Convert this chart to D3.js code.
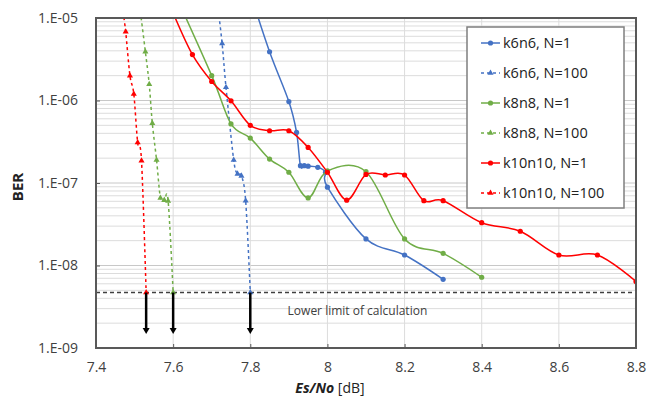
<!DOCTYPE html>
<html>
<head>
<meta charset="utf-8">
<script src="https://cdn.jsdelivr.net/npm/d3@7"></script>
<style>
  body { margin: 0; background: #fff; }
  svg { display: block; font-family: "Open Sans", sans-serif; }
</style>
</head>
<body>
<div id="chart"></div>
<script>
// values (Es/No in dB, BER)
var k6n6N1Es = [7.80, 7.85, 7.90, 7.92, 7.93, 7.94, 7.95, 7.975, 7.995, 8.0, 8.1, 8.2, 8.3];
var k6n6N1Ber = [2.0e-5, 3.9e-6, 9.7e-7, 4.1e-7, 1.62e-7, 1.62e-7, 1.6e-7, 1.55e-7, 1.35e-7, 8.9e-8, 2.1e-8, 1.34e-8, 6.8e-9];

var k6n6N100Es = [7.715, 7.727, 7.737, 7.757, 7.767, 7.777, 7.788, 7.80];
var k6n6N100Ber = [1.5e-5, 4.9e-6, 1.45e-6, 1.9e-7, 1.29e-7, 1.22e-7, 6.1e-8, 4.7e-9];

var k8n8N1Es = [7.6, 7.7, 7.75, 7.8, 7.85, 7.9, 7.95, 8.0, 8.1, 8.2, 8.3, 8.4];
var k8n8N1Ber = [2.2e-5, 2.0e-6, 5.2e-7, 3.5e-7, 1.95e-7, 1.35e-7, 6.6e-8, 1.4e-7, 1.37e-7, 2.1e-8, 1.4e-8, 7.2e-9];

var k8n8N100Es = [7.515, 7.528, 7.538, 7.546, 7.557, 7.567, 7.577, 7.587, 7.6];
var k8n8N100Ber = [1.2e-5, 3.9e-6, 1.57e-6, 5.3e-7, 1.9e-7, 6.6e-8, 6.2e-8, 6.05e-8, 4.7e-9];

var k10n10N1Es = [7.6, 7.65, 7.7, 7.75, 7.8, 7.85, 7.9, 7.95, 8.0, 8.05, 8.1, 8.15, 8.2, 8.25, 8.3, 8.4, 8.5, 8.6, 8.7, 8.8];
var k10n10N1Ber = [1.15e-5, 3.6e-6, 1.7e-6, 9.9e-7, 5.0e-7, 4.3e-7, 4.3e-7, 2.7e-7, 1.35e-7, 6.2e-8, 1.27e-7, 1.25e-7, 1.25e-7, 6.1e-8, 6.1e-8, 3.3e-8, 2.6e-8, 1.34e-8, 1.34e-8, 6.4e-9];

var k10n10N100Es = [7.47, 7.477, 7.488, 7.498, 7.508, 7.518, 7.53];
var k10n10N100Ber = [1.2e-5, 6.8e-6, 2.0e-6, 1.2e-6, 3.1e-7, 1.86e-7, 4.7e-9];

var lowerLimit = 4.7e-9;
var arrowEs = [7.53, 7.6, 7.8];
var xTicks = [7.4, 7.6, 7.8, 8.0, 8.2, 8.4, 8.6, 8.8];
var yTicks = [1e-9, 1e-8, 1e-7, 1e-6, 1e-5];

var series = [
  {name: "k6n6, N=1",     es: k6n6N1Es,     ber: k6n6N1Ber,     color: "#4472C4", dashed: false},
  {name: "k6n6, N=100",   es: k6n6N100Es,   ber: k6n6N100Ber,   color: "#4472C4", dashed: true},
  {name: "k8n8, N=1",     es: k8n8N1Es,     ber: k8n8N1Ber,     color: "#70AD47", dashed: false},
  {name: "k8n8, N=100",   es: k8n8N100Es,   ber: k8n8N100Ber,   color: "#70AD47", dashed: true},
  {name: "k10n10, N=1",   es: k10n10N1Es,   ber: k10n10N1Ber,   color: "#FF0000", dashed: false},
  {name: "k10n10, N=100", es: k10n10N100Es, ber: k10n10N100Ber, color: "#FF0000", dashed: true}
];

var W = 657, H = 397;
var margin = {left: 96, right: 21, top: 18, bottom: 49};
var width = W - margin.left - margin.right;
var height = H - margin.top - margin.bottom;

var x = d3.scaleLinear().domain([7.4, 8.8]).range([0, width]);
var y = d3.scaleLog().domain([1e-9, 1e-5]).range([height, 0]);

var svg = d3.select("#chart").append("svg")
  .attr("width", W)
  .attr("height", H);

svg.append("defs").append("clipPath").attr("id", "plotclip")
  .append("rect").attr("width", width).attr("height", height);

var g = svg.append("g").attr("transform", "translate(" + margin.left + "," + margin.top + ")");

// gridlines: log minor lines then majors
var minor = [];
for (var e = -9; e < -5; e++) {
  for (var m = 2; m <= 9; m++) minor.push(m * Math.pow(10, e));
}
g.append("g").selectAll("line").data(minor).enter().append("line")
  .attr("x1", 0).attr("x2", width)
  .attr("y1", function(d) { return y(d); }).attr("y2", function(d) { return y(d); })
  .attr("stroke", "#dcdcdc").attr("stroke-width", 1);
g.append("g").selectAll("line").data(yTicks).enter().append("line")
  .attr("x1", 0).attr("x2", width)
  .attr("y1", function(d) { return y(d); }).attr("y2", function(d) { return y(d); })
  .attr("stroke", "#c8c8c8").attr("stroke-width", 1);
g.append("g").selectAll("line").data(xTicks).enter().append("line")
  .attr("y1", 0).attr("y2", height)
  .attr("x1", function(d) { return x(d); }).attr("x2", function(d) { return x(d); })
  .attr("stroke", "#dcdcdc").attr("stroke-width", 1);

// axes with inner ticks
var xAxis = g.append("g").attr("transform", "translate(0," + height + ")")
  .call(d3.axisBottom(x).tickValues(xTicks).tickSizeInner(-4).tickSizeOuter(0).tickPadding(14)
    .tickFormat(function(d) { return d === 8 ? "8" : d3.format(".1f")(d); }));
var yAxis = g.append("g")
  .call(d3.axisLeft(y).tickValues(yTicks).tickSizeInner(-4).tickSizeOuter(0).tickPadding(18)
    .tickFormat(function(d) { return "1.E-" + d3.format("02d")(Math.round(-Math.log10(d))); }));
[xAxis, yAxis].forEach(function(a) {
  a.select(".domain").remove();
  a.selectAll(".tick line").attr("stroke", "#595959");
  a.selectAll("text").attr("fill", "#404040").style("font-size", "14px").style("font-family", "Open Sans");
});

// lower limit of calculation
g.append("line")
  .attr("x1", 0).attr("x2", width)
  .attr("y1", y(lowerLimit)).attr("y2", y(lowerLimit))
  .attr("stroke", "#404040").attr("stroke-width", 1.5).attr("stroke-dasharray", "4,3");
g.append("text")
  .attr("x", x(8.0) + 30).attr("y", y(lowerLimit) + 22)
  .attr("text-anchor", "middle")
  .attr("fill", "#404040").style("font-size", "12px")
  .text("Lower limit of calculation");

// series
var line = d3.line()
  .curve(d3.curveCatmullRom.alpha(0))
  .x(function(d) { return x(d[0]); })
  .y(function(d) { return y(d[1]); });

var plot = g.append("g").attr("clip-path", "url(#plotclip)");
var tri = d3.symbol().type(d3.symbolTriangle).size(16);

series.forEach(function(s) {
  var pts = s.es.map(function(v, i) { return [v, s.ber[i]]; });
  plot.append("path")
    .attr("d", line(pts))
    .attr("fill", "none")
    .attr("stroke", s.color)
    .attr("stroke-width", 1.5)
    .attr("stroke-dasharray", s.dashed ? "3,3" : null);
  var mk = plot.append("g").selectAll(".m").data(pts).enter();
  if (s.dashed) {
    mk.append("path")
      .attr("d", tri)
      .attr("transform", function(d) { return "translate(" + x(d[0]) + "," + y(d[1]) + ")"; })
      .attr("fill", s.color);
  } else {
    mk.append("circle")
      .attr("cx", function(d) { return x(d[0]); })
      .attr("cy", function(d) { return y(d[1]); })
      .attr("r", 2.6)
      .attr("fill", s.color);
  }
});

// arrows
var arrows = g.append("g");
arrowEs.forEach(function(v) {
  var ax = x(v), y0 = y(lowerLimit), y1 = height - 14;
  arrows.append("line")
    .attr("x1", ax).attr("x2", ax).attr("y1", y0).attr("y2", y1 - 5)
    .attr("stroke", "#000").attr("stroke-width", 2.5);
  arrows.append("path")
    .attr("d", "M" + (ax - 3.5) + "," + (y1 - 6) + "L" + (ax + 3.5) + "," + (y1 - 6) + "L" + ax + "," + y1 + "Z")
    .attr("fill", "#000");
});

// plot frame
g.append("rect")
  .attr("width", width).attr("height", height)
  .attr("fill", "none").attr("stroke", "#595959").attr("stroke-width", 2);

// axis titles
var xt = svg.append("text")
  .attr("x", 330).attr("y", 393)
  .attr("text-anchor", "middle")
  .attr("fill", "#222").style("font-size", "14px");
xt.append("tspan").style("font-weight", "bold").style("font-style", "italic").text("Es/No");
xt.append("tspan").text(" [dB]");

svg.append("text")
  .attr("transform", "translate(23,187) rotate(-90)")
  .attr("text-anchor", "middle")
  .attr("fill", "#222").style("font-size", "15px").style("font-weight", "bold")
  .text("BER");

// legend
var legend = svg.append("g").attr("transform", "translate(467,27)");
legend.append("rect")
  .attr("width", 157).attr("height", 181)
  .attr("fill", "#fff").attr("stroke", "#7f7f7f").attr("stroke-width", 1.5);
legend.selectAll(".item").data(series).enter().append("g")
  .each(function(s, i) {
    var row = d3.select(this).attr("transform", "translate(0," + (16 + i * 30) + ")");
    row.append("line")
      .attr("x1", 14).attr("x2", 33).attr("y1", 0).attr("y2", 0)
      .attr("stroke", s.color).attr("stroke-width", 1.5)
      .attr("stroke-dasharray", s.dashed ? "3,3" : null);
    if (s.dashed) {
      row.append("path").attr("d", tri).attr("transform", "translate(23.5,0)").attr("fill", s.color);
    } else {
      row.append("circle").attr("cx", 23.5).attr("cy", 0).attr("r", 2.6).attr("fill", s.color);
    }
    row.append("text")
      .attr("x", 36).attr("y", 5)
      .attr("fill", "#222").style("font-size", "14.5px")
      .text(s.name);
  });
</script>
</body>
</html>
